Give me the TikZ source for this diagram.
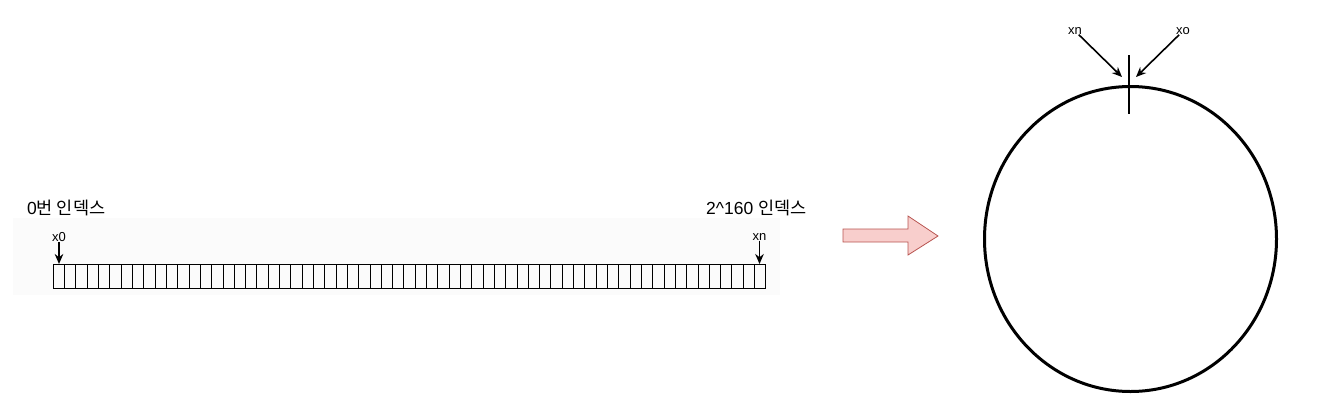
\documentclass[tikz,border=0pt]{standalone}
\usepackage{fontspec}
\setmainfont{Liberation Sans}
\newfontfamily\krfont{Noto Sans CJK KR}
\usepackage{tikz}
\usetikzlibrary{shapes.geometric, arrows.meta, positioning, calc}
\definecolor{arrowpink}{HTML}{F8CECC}
\definecolor{arrowred}{HTML}{B85450}
\definecolor{bandgray}{HTML}{FBFBFB}

\begin{document}
\begin{tikzpicture}[
    x=1pt, y=-1pt,
    idxlabel/.style={font=\fontsize{17.5}{20}\selectfont, inner sep=0pt},
    ptrlabel/.style={font=\fontsize{13}{15}\selectfont, inner sep=0pt},
    pointer/.style={-{Stealth[length=10pt, width=8.5pt]}, line width=1.6pt},
    cellarray/.style={draw, line width=0.9pt, minimum width=712.5pt, minimum height=24pt, inner sep=0pt, outer sep=0pt},
    ring/.style={draw, ellipse, line width=3pt, minimum width=292pt, minimum height=305pt, inner sep=0pt, outer sep=0pt}
]
    \useasboundingbox (0,0) rectangle (1326,416);
    % faint band behind the array
    \fill[bandgray] (13,218) rectangle (780,295);

    % hash space as a flat array
    \node[cellarray, anchor=north west] (arr) at (53.3,264) {};
    \foreach \i in {1,...,62}
        \draw[line width=0.9pt] ($(arr.north west)+(\i*11.31,0)$) -- ($(arr.south west)+(\i*11.31,0)$);

    \node[idxlabel, anchor=west] (first) at (27,208) {0{\krfont 번 인덱스}};
    \node[idxlabel, anchor=west] (last) at (706,208) {2\^{}160 {\krfont 인덱스}};

    \node[ptrlabel] (x0) at (59,237) {x0};
    \node[ptrlabel] (xnarr) at (759.5,237) {xn};
    \coordinate (c0) at (59,264);
    \coordinate (cn) at (759.5,264);
    \draw[pointer] (x0) -- (c0);
    \draw[pointer] (xnarr) -- (cn);

    % transition arrow
    \filldraw[fill=arrowpink, draw=arrowred, line width=0.8pt]
        (843,229) -- (908,229) -- (908,216) -- (938,236) -- (908,255) -- (908,242) -- (843,242) -- cycle;

    % hash ring
    \node[ring] (hashring) at (1130.5,239) {};
    \coordinate (tickt) at (1129,55);
    \coordinate (tickb) at (1129,114);
    \draw[line width=1.6pt] (tickt) -- (tickb);

    \node[ptrlabel] (xnring) at (1075,31) {xn};
    \node[ptrlabel] (xoring) at (1183,31) {xo};
    \coordinate (hitl) at (1122,77);
    \coordinate (hitr) at (1136,77);
    \draw[pointer] (xnring) -- (hitl);
    \draw[pointer] (xoring) -- (hitr);
\end{tikzpicture}
\end{document}
